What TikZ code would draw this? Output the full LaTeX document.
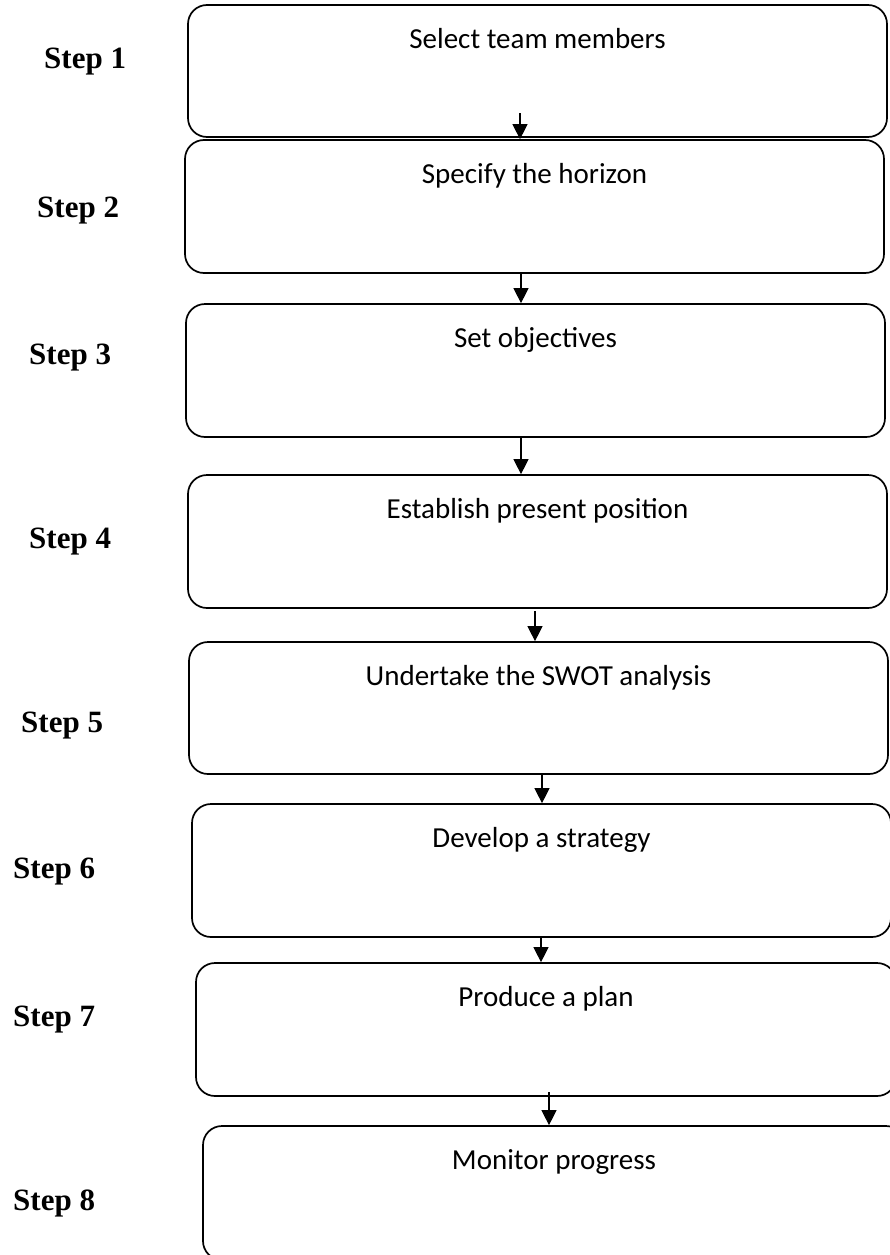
\documentclass[tikz,border=0pt]{standalone}
\usepackage{fontspec}
\setmainfont{Liberation Serif}
\newfontfamily\boxfont{Carlito}
\usetikzlibrary{arrows.meta,calc}
\begin{document}
\begin{tikzpicture}[x=1pt,y=-1pt,
  stepbox/.style={draw=black,line width=1.7pt,rounded corners=19pt,fill=white,inner sep=0pt},
  boxtext/.style={anchor=base,inner sep=0pt,font=\boxfont\fontsize{29}{34}\selectfont},
  steplabel/.style={anchor=base west,inner sep=0pt,font=\bfseries\fontsize{31}{36}\selectfont},
  arr/.style={line width=1.1pt,-{Triangle[width=15pt,length=15pt]}}]
\useasboundingbox (0,0) rectangle (890,1255);
\clip (0,0) rectangle (890,1255);
% boxes
\node[stepbox,minimum width=699pt,minimum height=132pt] (b1) at (537.5,71) {};
\node[stepbox,minimum width=699pt,minimum height=133pt] (b2) at (534.5,206.5) {};
\node[stepbox,minimum width=699pt,minimum height=133pt] (b3) at (535.5,370.5) {};
\node[stepbox,minimum width=699pt,minimum height=133pt] (b4) at (537.5,541.5) {};
\node[stepbox,minimum width=699pt,minimum height=132pt] (b5) at (538.5,708) {};
\node[stepbox,minimum width=699pt,minimum height=133pt] (b6) at (541.5,870.5) {};
\node[stepbox,minimum width=700pt,minimum height=133pt] (b7) at (546,1029.5) {};
\node[stepbox,minimum width=702pt,minimum height=134pt] (b8) at (554,1193) {};
% box texts
\node[boxtext] (t1) at ($(b1.north)+(0,44)$) {Select team members};
\node[boxtext] (t2) at ($(b2.north)+(0,44)$) {Specify the horizon};
\node[boxtext] (t3) at ($(b3.north)+(0,44)$) {Set objectives};
\node[boxtext] (t4) at ($(b4.north)+(0,44)$) {Establish present position};
\node[boxtext] (t5) at ($(b5.north)+(0,44)$) {Undertake the SWOT analysis};
\node[boxtext] (t6) at ($(b6.north)+(0,44)$) {Develop a strategy};
\node[boxtext] (t7) at ($(b7.north)+(0,44)$) {Produce a plan};
\node[boxtext] (t8) at ($(b8.north)+(0,44)$) {Monitor progress};
% step labels
\node[steplabel] (s1) at (44,69) {Step 1};
\node[steplabel] (s2) at (37,217) {Step 2};
\node[steplabel] (s3) at (29,364) {Step 3};
\node[steplabel] (s4) at (29,548) {Step 4};
\node[steplabel] (s5) at (21,732) {Step 5};
\node[steplabel] (s6) at (13,878) {Step 6};
\node[steplabel] (s7) at (13,1026) {Step 7};
\node[steplabel] (s8) at (13,1210) {Step 8};
% arrows
\coordinate (a1) at (520,113);
\coordinate (a2) at (521,273);
\coordinate (a3) at (521,437);
\coordinate (a4) at (535,611);
\coordinate (a5) at (542,774);
\coordinate (a6) at (541,937);
\coordinate (a7) at (549,1092);
\draw[arr] (a1) -- (a1 |- b2.north);
\draw[arr] (a2) -- (a2 |- b3.north);
\draw[arr] (a3) -- (a3 |- b4.north);
\draw[arr] (a4) -- (a4 |- b5.north);
\draw[arr] (a5) -- (a5 |- b6.north);
\draw[arr] (a6) -- (a6 |- b7.north);
\draw[arr] (a7) -- (a7 |- b8.north);
\end{tikzpicture}
\end{document}
